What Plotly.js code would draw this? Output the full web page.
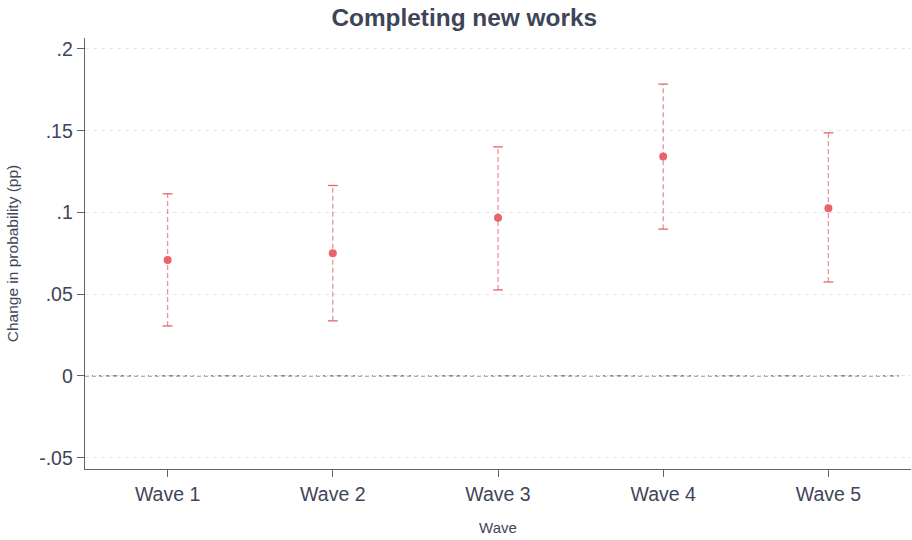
<!DOCTYPE html>
<html>
<head>
<meta charset="utf-8">
<script src="https://cdn.plot.ly/plotly-3.0.1.min.js"></script>
<style>html,body{margin:0;padding:0;background:#fff;}#chart{width:912px;height:540px;}</style>
</head>
<body>
<div id="chart"></div>
<script>
const waves = [1, 2, 3, 4, 5];
const waveLabels = ["Wave 1", "Wave 2", "Wave 3", "Wave 4", "Wave 5"];
const estimates = [0.0710, 0.0751, 0.0967, 0.1342, 0.1026];
const ciLower = [0.0306, 0.0337, 0.0526, 0.0898, 0.0575];
const ciUpper = [0.1114, 0.1165, 0.1401, 0.1785, 0.1487];
const yTickVals = [-0.05, 0, 0.05, 0.1, 0.15, 0.2];
const yTickText = ["-.05", "0", ".05", ".1", ".15", ".2"];

const red = "#e8636b";
const ink = "#3e4559";

const barX = [], barY = [];
waves.forEach((w, i) => { barX.push(w, w, null); barY.push(ciLower[i], ciUpper[i], null); });

const traces = [
  {x: barX, y: barY, mode: "lines", type: "scatter", hoverinfo: "skip",
   line: {color: "rgba(232,99,107,0.7)", width: 1.3, dash: "5px,3px"}, showlegend: false},
  {x: waves.concat(waves), y: ciLower.concat(ciUpper), mode: "markers", type: "scatter",
   marker: {symbol: "line-ew", size: 7, line: {color: red, width: 1.3}}, showlegend: false},
  {x: waves, y: estimates, mode: "markers", type: "scatter",
   marker: {color: red, size: 8}, showlegend: false}
];

const layout = {
  width: 912, height: 540,
  margin: {l: 85, r: 1, t: 38, b: 71},
  paper_bgcolor: "#fff", plot_bgcolor: "#fff",
  font: {family: "Liberation Sans, Arial, sans-serif", color: ink},
  title: {text: "<b>Completing new works</b>", x: 0.509, xanchor: "center", y: 0.968, yanchor: "middle",
          font: {size: 24.4, color: ink}},
  xaxis: {
    range: [0.5, 5.5], tickvals: waves, ticktext: waveLabels,
    showgrid: false, zeroline: false, showline: true, linecolor: "#5b6272", linewidth: 1.3,
    ticks: "outside", ticklen: 7, tickcolor: "#5b6272", tickfont: {size: 19.5, color: ink},
    title: {text: "Wave", font: {size: 15, color: ink}, standoff: 18}
  },
  yaxis: {
    range: [-0.0569, 0.2067], tickvals: yTickVals, ticktext: yTickText,
    showgrid: true, gridcolor: "#e6e6e6", griddash: "4px,4px", gridwidth: 1,
    zeroline: false, showline: true, linecolor: "#5b6272", linewidth: 1.3,
    ticks: "outside", ticklen: 7, tickcolor: "#5b6272", tickfont: {size: 19.5, color: ink},
    title: {text: "Change in probability (pp)", font: {size: 15.5, color: ink}, standoff: 16}
  },
  shapes: [
    {type: "line", xref: "paper", yref: "y", x0: 0, x1: 0.985, y0: 0, y1: 0,
     line: {color: "#666", width: 1.2, dash: "4px,3px"}, layer: "below"}
  ]
};

Plotly.newPlot("chart", traces, layout, {displayModeBar: false, staticPlot: true});
</script>
</body>
</html>
